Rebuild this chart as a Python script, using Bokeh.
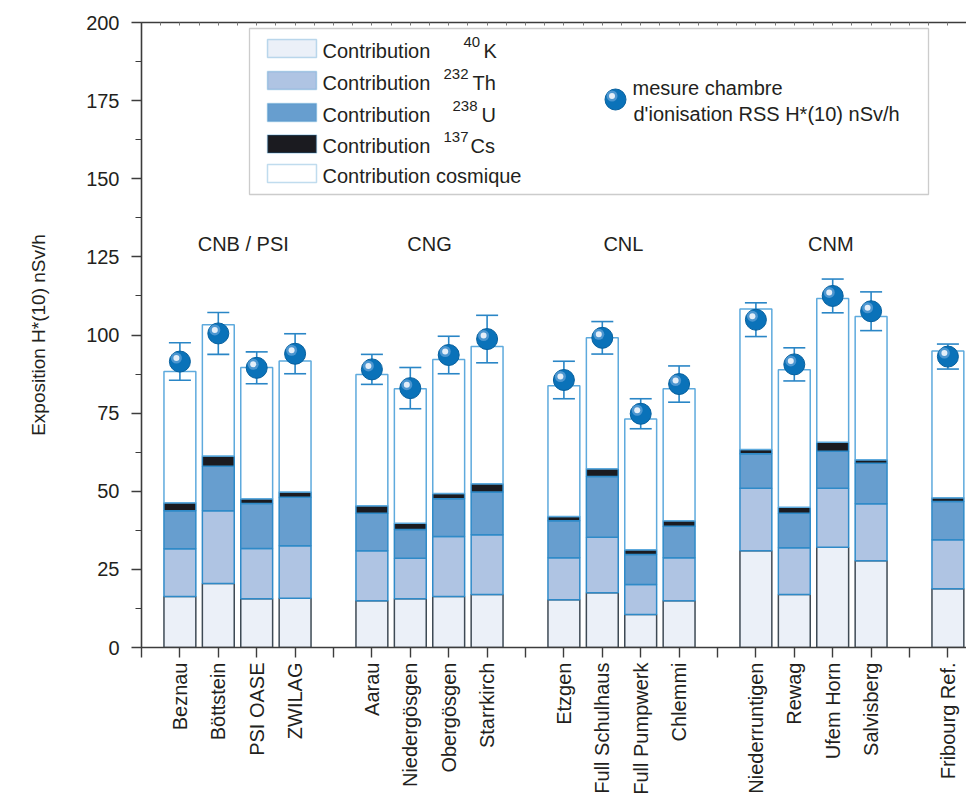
import numpy as np
from bokeh.plotting import figure
from bokeh.models import (FixedTicker, SingleIntervalTicker, LinearAxis,
                          Range1d, BoxAnnotation, Label)
from bokeh.core.properties import value
from bokeh.embed import file_html
from bokeh.resources import INLINE

# ---------------- data ----------------
group_names = ["CNB / PSI", "CNG", "CNL", "CNM", ""]
stations = [
    ["Beznau", "Böttstein", "PSI OASE", "ZWILAG"],
    ["Aarau", "Niedergösgen", "Obergösgen", "Starrkirch"],
    ["Etzgen", "Full Schulhaus", "Full Pumpwerk", "Chlemmi"],
    ["Niederruntigen", "Rewag", "Ufem Horn", "Salvisberg"],
    ["Fribourg Ref."],
]
# contributions (nSv/h)
k40 =     [16.3, 20.5, 15.6, 15.8, 15.0, 15.6, 16.3, 17.0, 15.3, 17.5, 10.6, 15.0, 31.0, 17.0, 32.1, 27.8, 18.8]
th232 =   [15.3, 23.3, 16.1, 16.8, 16.0, 13.0, 19.2, 19.1, 13.4, 17.8,  9.6, 13.7, 20.0, 14.9, 18.9, 18.2, 15.7]
u238 =    [12.2, 14.2, 14.4, 15.5, 12.0,  9.2, 12.1, 13.7, 11.9, 19.4,  9.6, 10.1, 11.0, 11.1, 11.8, 13.0, 12.2]
cs137 =   [ 2.5,  3.3,  1.5,  1.7,  2.4,  2.0,  1.7,  2.6,  1.3,  2.5,  1.5,  1.8,  1.4,  1.9,  2.9,  1.1,  1.2]
cosmic =  [42.0, 42.0, 42.0, 41.9, 42.0, 43.0, 42.9, 43.9, 41.9, 41.9, 41.8, 42.2, 44.9, 44.0, 46.0, 45.8, 47.0]
# ionisation chamber measurement and its uncertainty
measure = [91.5, 100.5, 89.5, 94.0, 89.0, 83.0, 93.6, 98.7, 85.6, 99.1, 74.8, 84.3, 104.9, 90.6, 112.5, 107.6, 93.1]
meas_err = [6.0, 6.7, 5.1, 6.4, 4.8, 6.6, 6.0, 7.6, 6.0, 5.2, 4.8, 5.8, 5.4, 5.3, 5.4, 6.2, 4.0]

# ---------------- positions from group structure ----------------
names, xpos, group_x, gap_ticks = [], [], [], [0]
pos = 1
for g, members in zip(group_names, stations):
    xs = []
    for s in members:
        names.append(s)
        xpos.append(pos)
        xs.append(pos)
        pos += 1
    group_x.append(float(np.mean(xs)))
    gap_ticks.append(pos)
    pos += 1
n_slots = pos - 1
gap_ticks = [t for t in gap_ticks if t < n_slots]
overrides = {x: nm for nm, x in zip(names, xpos)}

xpos = np.array(xpos, dtype=float)
layers = np.array([k40, th232, u238, cs137, cosmic])
tops = np.cumsum(layers, axis=0)
bottoms = tops - layers
meas = np.array(measure)
err = np.array(meas_err)

# ---------------- geometry ----------------
W, H = 966, 797
FRAME_L, FRAME_T = 141, 22           # screen pixels of frame corner
ML, MT = FRAME_L, FRAME_T
FW, FH = W - ML, 625
MB = H - MT - FH
XMAX = FW / 38.4
YMAX = 200

def px2x(px):
    return (px - FRAME_L) * XMAX / FW

def py2y(py):
    return (FRAME_T + FH - py) * YMAX / FH

FONT = "Liberation Sans"
TXT = "#231f20"
AX = "#3c3c3c"

p = figure(width=W, height=H, output_backend="svg", toolbar_location=None,
           x_range=Range1d(0, XMAX), y_range=Range1d(0, YMAX),
           min_border_left=ML, min_border_top=MT, min_border_bottom=MB, min_border_right=0,
           x_axis_location=None, y_axis_location=None)
p.xgrid.visible = False
p.ygrid.visible = False
p.outline_line_color = None
p.background_fill_color = "white"
p.border_fill_color = "white"

# axes
yax = LinearAxis(ticker=SingleIntervalTicker(interval=25, num_minor_ticks=2))
yax.axis_label = "Exposition H*(10) nSv/h"
xax = LinearAxis(ticker=FixedTicker(ticks=list(xpos.astype(int)), minor_ticks=gap_ticks))
xax.major_label_overrides = overrides
xax.major_label_orientation = np.pi / 2
for ax in (xax, yax):
    ax.axis_line_color = AX
    ax.axis_line_width = 1.6
    ax.major_tick_line_color = AX
    ax.major_tick_line_width = 1.4
    ax.minor_tick_line_color = AX
    ax.minor_tick_line_width = 1.2
    ax.major_tick_in = 0
    ax.major_tick_out = 10
    ax.minor_tick_in = 0
    ax.minor_tick_out = 6
    ax.major_label_text_font = FONT
    ax.major_label_text_font_size = "20px"
    ax.major_label_text_color = TXT
    ax.axis_label_text_font = FONT
    ax.axis_label_text_font_size = "19px"
    ax.axis_label_text_font_style = "normal"
    ax.axis_label_text_color = TXT
xax.minor_tick_out = 10
xax.minor_tick_line_width = 1.4
xax.major_label_standoff = 5
yax.major_label_standoff = 12
yax.axis_label_standoff = 34
p.add_layout(yax, "left")
p.add_layout(xax, "below")

top_ax = LinearAxis(ticker=FixedTicker(ticks=[], minor_ticks=[i * 0.5 for i in range(0, 2 * n_slots + 1)]))
top_ax.axis_line_color = AX
top_ax.axis_line_width = 1.6
top_ax.major_tick_line_color = None
top_ax.minor_tick_line_color = "#777777"
top_ax.minor_tick_in = 3
top_ax.minor_tick_out = 0
p.add_layout(top_ax, "above")

# ---------------- stacked bars ----------------
BW = 0.83
fills = ["#ebf0f8", "#afc4e3", "#679ecf", "#1b1b20", "#ffffff"]
lines = ["#3e4a55", "#2f8ac8", "#2f8ac8", "#2f8ac8", "#5eaadd"]
for i in range(5):
    p.vbar(x=xpos, width=BW, bottom=bottoms[i], top=tops[i],
           fill_color=fills[i], line_color=lines[i], line_width=1.5)

# ---------------- measurements ----------------
ERR_C = "#2a86c6"
p.segment(x0=xpos, y0=meas - err, x1=xpos, y1=meas + err, line_color=ERR_C, line_width=1.6)
p.scatter(x=xpos, y=meas + err, marker="dash", size=22, line_color=ERR_C, line_width=1.6)
p.scatter(x=xpos, y=meas - err, marker="dash", size=22, line_color=ERR_C, line_width=1.6)

DX = 3.5 * XMAX / FW
DY = 3.5 * YMAX / FH

def sphere(xs, ys, level="glyph"):
    xs = np.asarray(xs, dtype=float)
    ys = np.asarray(ys, dtype=float)
    p.scatter(x=xs, y=ys, size=21, fill_color="#0a72b9", line_color="#07609e", line_width=1, level=level)
    p.scatter(x=xs - DX, y=ys + DY, size=11, fill_color="#5c9fd6", line_color=None, fill_alpha=0.8, level=level)
    p.scatter(x=xs - DX, y=ys + DY, size=6, fill_color="#e4eef8", line_color=None, level=level)

sphere(xpos, meas)

# ---------------- group labels ----------------
nudge = [0.15, 0.0, 0.05, 0.45, 0.0]
gl_x = [gx + d for gx, d in zip(group_x, nudge)]
p.text(x=gl_x[:4], y=[py2y(243)] * 4, text=group_names[:4],
       text_font=value(FONT), text_font_size="20px", text_color=TXT,
       text_align="center", text_baseline="middle")

# ---------------- legend (manual) ----------------
p.add_layout(BoxAnnotation(left=px2x(249), right=px2x(928), top=py2y(28), bottom=py2y(194),
                           fill_color="white", fill_alpha=1.0, line_color="#555555", line_width=1.3,
                           level="annotation"))
row_y = [48, 80, 112, 143.5, 173]
leg_items = [("40", "K", 463, 483), ("232", "Th", 443, 472), ("238", "U", 452, 481),
             ("137", "Cs", 443, 470), (None, None, None, None)]
for i, (sup, el, sx, ex) in enumerate(leg_items):
    yc = row_y[i]
    p.add_layout(BoxAnnotation(left=px2x(267), right=px2x(316), top=py2y(yc - 9), bottom=py2y(yc + 9),
                               fill_color=fills[i], fill_alpha=1.0,
                               line_color="#2f8ac8", line_width=1.5, level="overlay"))
    txt = "Contribution" if sup else "Contribution cosmique"
    p.add_layout(Label(x=px2x(322), y=py2y(yc + 2), text=txt, text_font=FONT, text_font_size="20px",
                       text_color=TXT, text_baseline="middle", text_align="left", level="overlay"))
    if sup:
        p.add_layout(Label(x=px2x(sx), y=py2y(yc - 7), text=sup, text_font=FONT, text_font_size="15px",
                           text_color=TXT, text_baseline="middle", text_align="left", level="overlay"))
        p.add_layout(Label(x=px2x(ex), y=py2y(yc + 2), text=el, text_font=FONT, text_font_size="20px",
                           text_color=TXT, text_baseline="middle", text_align="left", level="overlay"))

p.add_layout(Label(x=px2x(632), y=py2y(87), text="mesure chambre", text_font=FONT,
                   text_font_size="20px", text_color=TXT, text_baseline="middle", level="overlay"))
p.add_layout(Label(x=px2x(633), y=py2y(113), text="d'ionisation RSS H*(10) nSv/h", text_font=FONT,
                   text_font_size="20px", text_color=TXT, text_baseline="middle", level="overlay"))

sphere([px2x(615)], [py2y(99)], level="overlay")

open("out.html", "w").write(file_html(p, INLINE))
